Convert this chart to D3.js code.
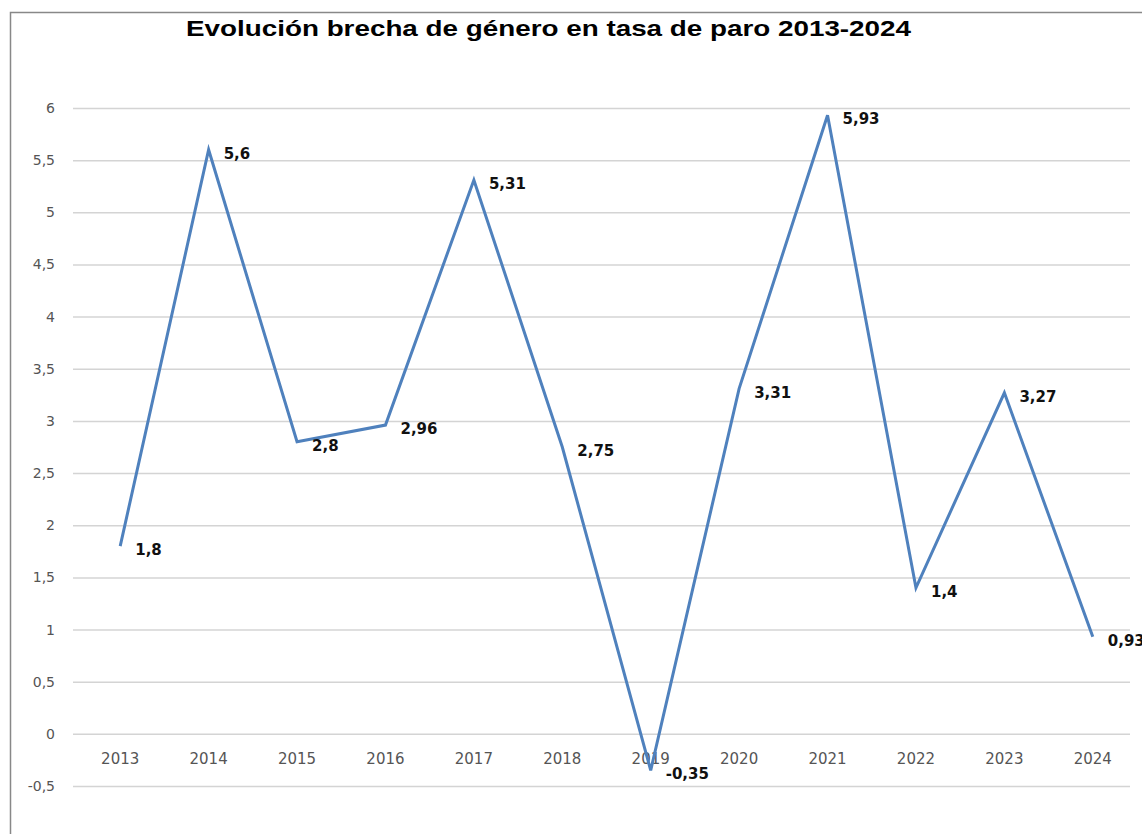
<!DOCTYPE html>
<html>
<head>
<meta charset="utf-8">
<script src="https://cdn.jsdelivr.net/npm/d3@7"></script>
<style>
  body { margin: 0; background: #fff; }
  svg { display: block; }
</style>
</head>
<body>
<script>
const title = 'Evolución brecha de género en tasa de paro 2013-2024';
const years = ['2013', '2014', '2015', '2016', '2017', '2018', '2019', '2020', '2021', '2022', '2023', '2024'];
const gap = [1.8, 5.6, 2.8, 2.96, 5.31, 2.75, -0.35, 3.31, 5.93, 1.4, 3.27, 0.93];
const yTicks = [-0.5, 0, 0.5, 1, 1.5, 2, 2.5, 3, 3.5, 4, 4.5, 5, 5.5, 6];

const width = 1142;
const height = 834;
const plot = { left: 73, right: 1130 };

const fmt = d => String(d).replace('.', ',');

const svg = d3.select('body').append('svg').attr('width', width).attr('height', height);

// chart frame
svg.append('rect')
  .attr('x', 10.5).attr('y', 12.5)
  .attr('width', width + 20).attr('height', height + 20)
  .attr('fill', '#fff')
  .attr('stroke', '#888').attr('stroke-width', 1.5);

svg.append('text')
  .attr('x', 186).attr('y', 36)
  .attr('textLength', 725).attr('lengthAdjust', 'spacingAndGlyphs')
  .attr('font-family', 'Liberation Sans, Arial, sans-serif')
  .attr('font-weight', 'bold').attr('font-size', 22)
  .text(title);

const x = d3.scaleBand().domain(years).range([76, 1137]);
const y = d3.scaleLinear().domain([-0.5, 6]).range([786, 108]);

// gridlines + y labels
const yAxis = svg.append('g')
  .attr('transform', `translate(${plot.left}, 0)`)
  .call(d3.axisLeft(y).tickValues(yTicks).tickSize(-(plot.right - plot.left)).tickPadding(18).tickFormat(fmt));
yAxis.select('.domain').remove();
yAxis.selectAll('.tick line').attr('stroke', '#d4d4d4').attr('stroke-width', 1.5);
yAxis.selectAll('.tick text')
  .attr('font-family', 'DejaVu Sans, sans-serif').attr('font-size', 14).attr('fill', '#555');

// category labels sit just below the zero line
const xAxis = svg.append('g')
  .attr('transform', `translate(0, ${y(0)})`)
  .call(d3.axisBottom(x).tickSize(0).tickPadding(20));
xAxis.select('.domain').remove();
xAxis.selectAll('.tick text')
  .attr('font-family', 'DejaVu Sans, sans-serif').attr('font-size', 15).attr('fill', '#555');

const cx = d => x(d) + x.bandwidth() / 2;

svg.append('path')
  .datum(years.map((d, i) => [d, gap[i]]))
  .attr('fill', 'none')
  .attr('stroke', '#4f81bd')
  .attr('stroke-width', 3)
  .attr('stroke-linejoin', 'miter')
  .attr('d', d3.line().x(d => cx(d[0])).y(d => y(d[1])));

svg.selectAll('.lbl')
  .data(years.map((d, i) => [d, gap[i]]))
  .enter()
  .append('text')
  .attr('class', 'lbl')
  .attr('x', d => cx(d[0]) + 15)
  .attr('y', d => y(d[1]) + 9)
  .attr('font-family', 'DejaVu Sans, sans-serif')
  .attr('font-weight', 'bold').attr('font-size', 15)
  .attr('fill', '#111')
  .text(d => fmt(d[1]));
</script>
</body>
</html>
